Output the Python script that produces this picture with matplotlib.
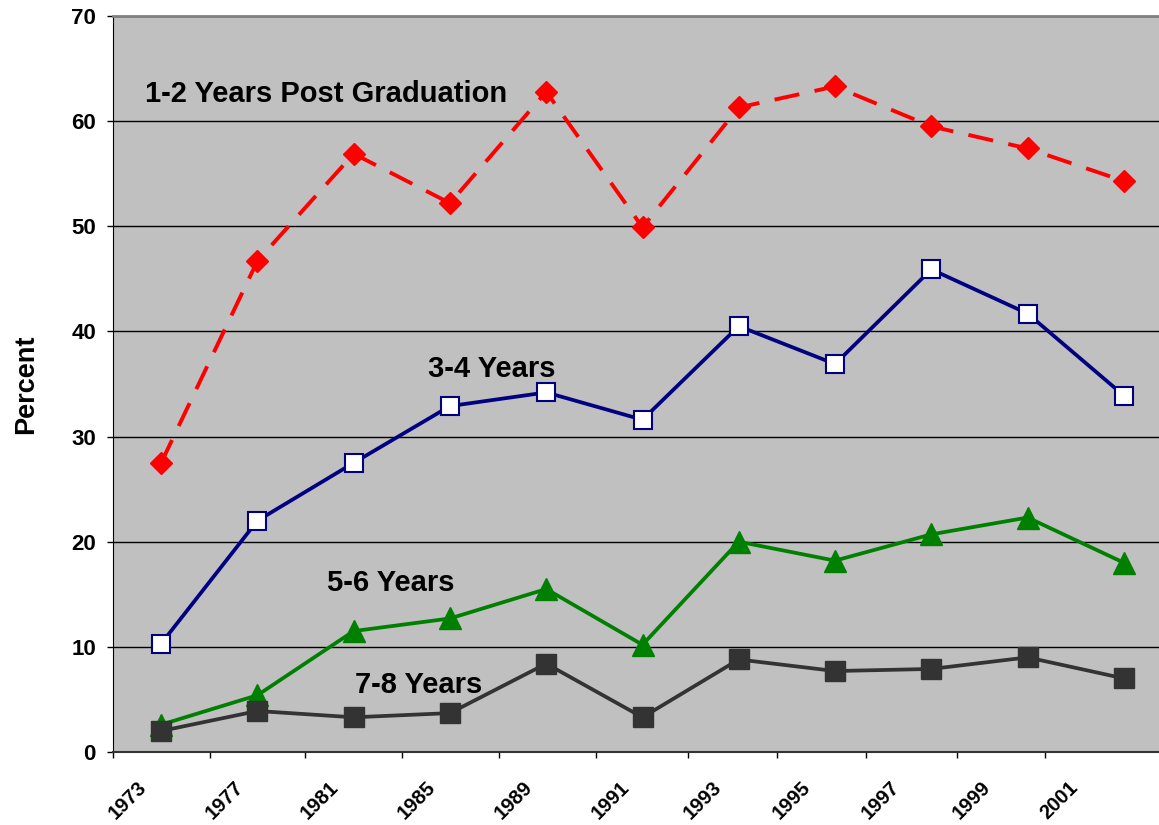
import matplotlib
matplotlib.use('Agg')
import matplotlib.pyplot as plt
import matplotlib.transforms as mtransforms

plt.rcParams['font.family'] = ['Liberation Sans', 'DejaVu Sans']
plt.rcParams['font.weight'] = 'bold'

# data, one point per survey
points = list(range(11))
post_1_2 = [27.5, 46.7, 56.9, 52.2, 62.8, 49.9, 61.3, 63.3, 59.5, 57.4, 54.3]
years_3_4 = [10.3, 22.0, 27.5, 32.9, 34.2, 31.6, 40.5, 36.9, 45.9, 41.7, 33.9]
years_5_6 = [2.6, 5.4, 11.5, 12.7, 15.5, 10.2, 20.0, 18.2, 20.7, 22.3, 18.0]
years_7_8 = [2.0, 3.9, 3.3, 3.7, 8.4, 3.3, 8.8, 7.7, 7.9, 9.0, 7.0]

year_labels = ['1973', '1977', '1981', '1985', '1989', '1991',
               '1993', '1995', '1997', '1999', '2001']
year_tick_pos = [-0.5, 0.508, 1.494, 2.502, 3.51, 4.517,
                 5.473, 6.397, 7.321, 8.267, 9.181]

fig = plt.figure(figsize=(11.59, 8.25), dpi=100)
ax = fig.add_axes([113 / 1159, 1 - 752 / 825, (1172 - 113) / 1159, (752 - 16) / 825])
ax.set_facecolor('#C0C0C0')

ax.plot(points, post_1_2, color='#FF0000', lw=2.8, ls=(0, (6.5, 4)),
        marker='D', ms=11, mfc='#FF0000', mec='#FF0000', zorder=3)
ax.plot(points, years_3_4, color='#000080', lw=2.7,
        marker='s', ms=13, mfc='white', mec='#000080', mew=1.5, zorder=3)
ax.plot(points, years_5_6, color='#008000', lw=2.7,
        marker='^', ms=16, mfc='#008000', mec='#008000', zorder=3)
ax.plot(points, years_7_8, color='#333333', lw=2.7,
        marker='s', ms=14, mfc='#333333', mec='#333333', zorder=4)

ax.set_xlim(-0.5, 10.5)
ax.set_ylim(0, 70)
ax.set_yticks(range(0, 71, 10))
ax.yaxis.grid(True, color='black', lw=1)
ax.set_axisbelow(True)
ax.tick_params(axis='y', labelsize=16, length=4.3, width=1, pad=8)

ax.set_xticks(year_tick_pos)
ax.set_xticklabels(year_labels, rotation=45, ha='right', va='top')
ax.tick_params(axis='x', labelsize=14.5, length=4.3, width=1, pad=14)
shift = mtransforms.ScaledTranslation(0.37, 0, fig.dpi_scale_trans)
for lab in ax.get_xticklabels():
    lab.set_transform(lab.get_transform() + shift)
for lab in ax.get_yticklabels() + ax.get_xticklabels():
    lab.set_fontweight('bold')

ax.spines['top'].set_color('#808080')
ax.spines['top'].set_linewidth(2)
ax.spines['right'].set_visible(False)
ax.spines['left'].set_color('black')
ax.spines['bottom'].set_color('#333333')
ax.spines['bottom'].set_linewidth(1.5)

ax.set_ylabel('Percent', fontsize=19.5, fontweight='bold', labelpad=23)

ax.text(-0.168, 62.6, '1-2 Years Post Graduation', fontsize=21, fontweight='bold', va='center')
ax.text(2.77, 36.4, '3-4 Years', fontsize=21, fontweight='bold', va='center')
ax.text(1.72, 16.1, '5-6 Years', fontsize=21, fontweight='bold', va='center')
ax.text(2.01, 6.4, '7-8 Years', fontsize=21, fontweight='bold', va='center')

fig.savefig('out.png', dpi=100)
